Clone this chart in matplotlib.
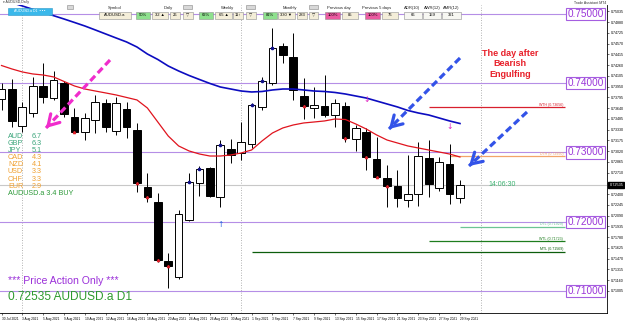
import matplotlib
matplotlib.use("Agg")
import matplotlib.pyplot as plt
from matplotlib.patches import Rectangle, FancyArrowPatch
from matplotlib.lines import Line2D

plt.rcParams['font.family'] = ['Liberation Sans', 'DejaVu Sans']

# ---------------- data ----------------
date_labels = ["30 Jul 2021", "3 Aug 2021", "5 Aug 2021", "9 Aug 2021", "10 Aug 2021",
               "12 Aug 2021", "16 Aug 2021", "18 Aug 2021", "20 Aug 2021", "24 Aug 2021",
               "26 Aug 2021", "30 Aug 2021", "1 Sep 2021", "3 Sep 2021", "7 Sep 2021",
               "9 Sep 2021", "13 Sep 2021", "15 Sep 2021", "17 Sep 2021", "21 Sep 2021",
               "23 Sep 2021", "27 Sep 2021", "29 Sep 2021"]

opens = [0.7377, 0.73916, 0.73383, 0.7357, 0.73964, 0.73786, 0.74007, 0.73517, 0.733, 0.73469,
         0.73714, 0.7331, 0.73623, 0.73325, 0.72507, 0.7229, 0.71439, 0.71208, 0.72026, 0.72564,
         0.72772, 0.72354, 0.73046, 0.72988, 0.73123, 0.73652, 0.73999, 0.74537, 0.74374, 0.73815,
         0.73638, 0.73671, 0.73541, 0.73671, 0.7319, 0.733, 0.72906, 0.72636, 0.72517, 0.72315,
         0.72397, 0.72916, 0.72492, 0.72834, 0.72339]
highs = [0.7400, 0.74061, 0.73729, 0.7409, 0.74291, 0.7418, 0.74032, 0.73646, 0.7357, 0.7383,
         0.73772, 0.73805, 0.73733, 0.73421, 0.727, 0.7242, 0.71554, 0.7217, 0.727, 0.72805,
         0.72785, 0.7318, 0.7319, 0.73444, 0.7371, 0.74094, 0.74792, 0.7458, 0.7472, 0.7407,
         0.7395, 0.74118, 0.73768, 0.73733, 0.73397, 0.73349, 0.73228, 0.7282, 0.72747, 0.72964,
         0.73156, 0.7318, 0.72939, 0.73123, 0.72603]
lows = [0.7362, 0.73368, 0.73296, 0.7351, 0.73714, 0.73758, 0.73517, 0.73281, 0.7318, 0.7328,
        0.733, 0.73253, 0.73209, 0.72434, 0.7229, 0.71424, 0.7104, 0.71181, 0.72016, 0.72372,
        0.7236, 0.72218, 0.72844, 0.72892, 0.7306, 0.73613, 0.73974, 0.74287, 0.73758, 0.73479,
        0.73493, 0.73517, 0.73372, 0.73156, 0.73026, 0.72747, 0.72628, 0.72218, 0.72218, 0.72218,
        0.72232, 0.72362, 0.72449, 0.72257, 0.72276]
closes = [0.7392, 0.73455, 0.73657, 0.7396, 0.73805, 0.74046, 0.73556, 0.733, 0.73498, 0.73733,
          0.73372, 0.73714, 0.73372, 0.72556, 0.72362, 0.71449, 0.71367, 0.72113, 0.72579, 0.72758,
          0.72372, 0.73108, 0.72964, 0.73156, 0.73685, 0.74032, 0.74504, 0.74407, 0.73902, 0.73671,
          0.73685, 0.73541, 0.73719, 0.73214, 0.73349, 0.72939, 0.72651, 0.72521, 0.72339, 0.72397,
          0.72954, 0.72541, 0.72867, 0.72401, 0.72535]

ma_blue = [0.75208, 0.75162, 0.75114, 0.75066, 0.75019, 0.74974, 0.74926, 0.74876, 0.74825, 0.74768,
           0.7471, 0.74652, 0.74595, 0.74522, 0.74421, 0.74342, 0.74248, 0.74176, 0.74111, 0.74053,
           0.73996, 0.73945, 0.73916, 0.73887, 0.73873, 0.7388, 0.73902, 0.73916, 0.73916, 0.73902,
           0.73887, 0.7388, 0.73866, 0.73844, 0.73815, 0.73786, 0.73743, 0.737, 0.73657, 0.73606,
           0.7357, 0.73541, 0.73498, 0.73455, 0.73418]
ma_red = [0.74255, 0.74205, 0.74162, 0.74133, 0.74118, 0.7409, 0.74025, 0.7396, 0.73916, 0.73887,
          0.73859, 0.7383, 0.73794, 0.73758, 0.73642, 0.7344, 0.73238, 0.73094, 0.73022, 0.72978,
          0.72949, 0.72949, 0.72964, 0.72993, 0.73036, 0.73166, 0.73281, 0.73354, 0.73397, 0.73426,
          0.7344, 0.73455, 0.73483, 0.73476, 0.73411, 0.73339, 0.73253, 0.7318, 0.73137, 0.73094,
          0.73065, 0.73036, 0.73007, 0.72978, 0.72935]

round_levels = [0.75, 0.74, 0.73, 0.72, 0.71]
level_names = ["WTH", "DTH", "DTL", "WTL", "MTL"]
level_values = [0.73656, 0.72950, 0.71929, 0.71723, 0.71569]
level_start = [41, 43, 44, 41, 24]
level_colors = ["#d8202e", "#f3a46a", "#6cc494", "#1e7d1e", "#0c5e0c"]
current_price = 0.72535
separator_idx = [2, 23, 46]
down_signal_idx = [35, 43]
down_signal_price = [0.73758, 0.73368]
up_signal_idx = [21]
up_signal_price = [0.71968]
bull_mark_idx = [18, 19, 21, 24, 25, 26]
bear_mark_idx = [7, 13, 14, 15, 16, 29, 33, 35, 36, 37]

y_ticks = [0.75035, 0.74880, 0.74725, 0.74570, 0.74415, 0.74260, 0.74105, 0.73950, 0.73795,
           0.73640, 0.73485, 0.73330, 0.73175, 0.73020, 0.72865, 0.72710, 0.72555, 0.72400,
           0.72245, 0.72090, 0.71935, 0.71780, 0.71625, 0.71470, 0.71315, 0.71160, 0.71005]

ccy_names = ["AUD", "GBP", "JPY", "CAD", "NZD", "USD", "CHF", "EUR"]
ccy_values = [6.7, 6.3, 5.1, 4.3, 4.1, 3.3, 3.3, 2.9]
pair_signal = "AUDUSD.a 3.4 BUY"

panel_headers = ["Symbol", "Daily", "Weekly", "Monthly", "Previous day", "Previous 5 days",
                 "ADR(10)", "AWR(12)", "AMR(12)"]

# ---------------- figure ----------------
W, H = 625, 321
fig = plt.figure(figsize=(W / 100, H / 100), dpi=100)
fig.patch.set_facecolor("white")


def fx(x):
    return x / W


def fy(y):
    return 1 - y / H


ax = fig.add_axes([0, fy(313), 607 / W, (313 - 5) / H])
ax.set_facecolor("white")
n = len(closes)
ax.set_xlim(-0.144, 58.11)
ax.set_ylim(0.70684, 0.75128)

# separators
for s in separator_idx:
    ax.axvline(s, color="#9a9a9a", ls=(0, (1, 2)), lw=0.6, zorder=1)

# round levels
xend_round = 54.27
for lv in round_levels:
    ax.hlines(lv, -1, xend_round, color="#b58ee6", lw=0.8, zorder=1)
    ax.text(0.965, lv, f"{lv:.5f}", transform=ax.get_yaxis_transform(), ha="center", va="center",
            fontsize=7.2, color="#9a35d8",
            bbox=dict(boxstyle="square,pad=0.12", fc="white", ec="#a55ee0", lw=0.8), zorder=6)

# current price line
ax.axhline(current_price, color="#c8c8c8", lw=0.8, zorder=1)

# high / low levels
for name, val, st, col in zip(level_names, level_values, level_start, level_colors):
    ax.hlines(val, st, 54.1, color=col, lw=0.9, zorder=2)
    ax.text(53.9, val + 0.00004, f"{name} ({val:.5f})", ha="right", va="bottom", fontsize=2.6,
            color=col, zorder=2)

# candles
bw = 0.74
for i in range(n):
    o, h, l, c = opens[i], highs[i], lows[i], closes[i]
    ax.vlines(i, l, h, color="black", lw=0.7, zorder=3)
    bull = c >= o
    bottom = min(o, c)
    height = max(abs(c - o), 0.00004)
    ax.add_patch(Rectangle((i - bw / 2, bottom), bw, height, fc="white" if bull else "black",
                           ec="black", lw=0.7, zorder=4))

# moving averages
ax.plot(range(n), ma_blue, color="#0c0cc0", lw=1.2, zorder=5)
ax.plot(range(n), ma_red, color="#e0141e", lw=0.9, zorder=5)

# small close markers
ax.plot(bull_mark_idx, [closes[i] for i in bull_mark_idx], ls="none", marker="o", ms=1.6,
        color="#10108a", zorder=6)
ax.plot(bear_mark_idx, [closes[i] for i in bear_mark_idx], ls="none", marker="^", ms=1.6,
        color="#e0202a", zorder=6)

# signal arrows
for i, p in zip(down_signal_idx, down_signal_price):
    ax.text(i, p, "↓", color="#e020c0", fontsize=5.5, ha="center", va="center", zorder=6,
            family=["DejaVu Sans"])
for i, p in zip(up_signal_idx, up_signal_price):
    ax.text(i, p, "↑", color="#2a62e0", fontsize=5.5, ha="center", va="center", zorder=6,
            family=["DejaVu Sans"])

# axes styling
for sp in ax.spines.values():
    sp.set_color("black")
    sp.set_linewidth(0.6)
ax.spines["top"].set_visible(False)
ax.spines["left"].set_visible(False)
ax.set_xticks(list(range(0, 45, 2)))
ax.set_xticklabels(date_labels, fontsize=2.3, ha="left")
ax.tick_params(axis="x", length=1.5, width=0.4, pad=1.2)
ax.yaxis.tick_right()
ax.set_yticks(y_ticks)
ax.set_yticklabels([f"{t:.5f}" for t in y_ticks], fontsize=2.6)
ax.tick_params(axis="y", length=1.5, width=0.4, pad=1)

# current price tag
ax.text(1.004, current_price, f"{current_price:.5f}", transform=ax.get_yaxis_transform(),
        ha="left", va="center", fontsize=2.8, color="white",
        bbox=dict(boxstyle="square,pad=0.25", fc="black", ec="black"), zorder=10, clip_on=False)

# ---------------- dashboard ----------------
fig.text(fx(3), fy(2.5), "▾ AUDUSD,Daily", fontsize=2.5, va="center", ha="left", color="#333333")
fig.text(fx(590), fy(3), "Trade Assistant MT4", fontsize=2.5, va="center", ha="center", color="#333333")


def box(x0, x1, y0, y1, fc, text, tc="black", ec="#909090", fs=3.0):
    fig.add_artist(Rectangle((fx(x0), fy(y1)), (x1 - x0) / W, (y1 - y0) / H,
                             transform=fig.transFigure, fc=fc, ec=ec, lw=0.4))
    if text:
        fig.text(fx((x0 + x1) / 2), fy((y0 + y1) / 2), text, ha="center", va="center",
                 fontsize=fs, color=tc)


beige = "#f4eed9"
green = "#8ee08e"
pink = "#ea5aa0"
box(8, 52, 8, 14.5, "#3ab8ea", "AUDUSD.a D1  ▪ ▪ ▪", tc="white", ec="#2a98c8", fs=2.6)
header_x = [115, 168, 228, 290, 339, 377, 412, 432, 451]
for hx, ht in zip(header_x, panel_headers):
    fig.text(fx(hx), fy(7.5), ht, ha="center", va="center", fontsize=3.0, color="#222222")
for gx0, gx1 in [(67, 73), (183, 192), (246, 255), (309, 318)]:
    box(gx0, gx1, 5, 9, "#d8d8d8", "", ec="#888888")

cells = [
    (99, 131, beige, "AUDUSD.a"),
    (136, 150, green, "50%"), (152, 168, beige, "32 ▲"), (170, 180, beige, "26"), (183, 193, beige, "▽"),
    (199, 213, green, "62%"), (215, 232, beige, "65 ▲"), (233, 243, beige, "11↑"), (246, 256, beige, "▽"),
    (263, 277, green, "81%"), (278, 295, beige, "330 ▼"), (297, 307, beige, "283"), (309, 318, beige, "▽"),
    (325, 340, pink, "100%"), (342, 358, beige, "85"),
    (365, 380, pink, "100%"), (382, 398, beige, "76"),
    (404, 422, "#f7f7f2", "66"), (423, 441, "#f7f7f2", "159"), (442, 461, "#f7f7f2", "321"),
]
for x0, x1, fc, t in cells:
    box(x0, x1, 12, 18.5, fc, t)

# ---------------- left panel ----------------
for k, (nm, v) in enumerate(zip(ccy_names, ccy_values)):
    col = "#3aa57a" if v >= 5 else "#f0a030"
    yy = 136 + 7.17 * k
    fig.text(fx(8), fy(yy), nm, fontsize=5.2, color=col, va="center", ha="left")
    fig.text(fx(32), fy(yy), f"{v:.1f}", fontsize=5.2, color=col, va="center", ha="left")
fig.text(fx(8), fy(136 + 7.17 * 8), pair_signal, fontsize=5.2, color="#2e9a3a", va="center", ha="left")

fig.text(fx(8), fy(281), "*** Price Action Only ***", fontsize=7.6, color="#9b30d9", va="center", ha="left")
fig.text(fx(8), fy(297.5), f"{current_price:.5f} AUDUSD.a D1", fontsize=8.6, color="#2e9a2e",
         va="center", ha="left")

fig.text(fx(510), fy(64), "The day after\nBearish\nEngulfing", fontsize=6.5, fontweight="bold",
         color="#e8202a", ha="center", va="center", linespacing=1.25)
fig.text(fx(488), fy(184.5), "14:06:30", fontsize=5, color="#3cb371", ha="left", va="center")


# ---------------- dashed arrows ----------------
def dashed_arrow(x0, y0, x1, y1, color):
    fig.add_artist(Line2D([fx(x0), fx(x1)], [fy(y0), fy(y1)], transform=fig.transFigure,
                          color=color, lw=2.3, dashes=(2.2, 1.2), dash_capstyle="butt", zorder=8))
    dx, dy = x1 - x0, y1 - y0
    L = (dx * dx + dy * dy) ** 0.5
    sx, sy = x1 - dx / L * 4, y1 - dy / L * 4
    fig.add_artist(FancyArrowPatch((fx(sx), fy(sy)), (fx(x1), fy(y1)), transform=fig.transFigure,
                                   arrowstyle="->,head_length=0.75,head_width=0.45", mutation_scale=10,
                                   color=color, lw=2.3, shrinkA=0, shrinkB=0, zorder=8))


dashed_arrow(110, 60, 46, 128, "#f02ccc")
dashed_arrow(460, 58, 389, 129, "#3353e8")
dashed_arrow(527, 112, 469, 166, "#3353e8")

fig.savefig("out.png", dpi=100, facecolor="white")
